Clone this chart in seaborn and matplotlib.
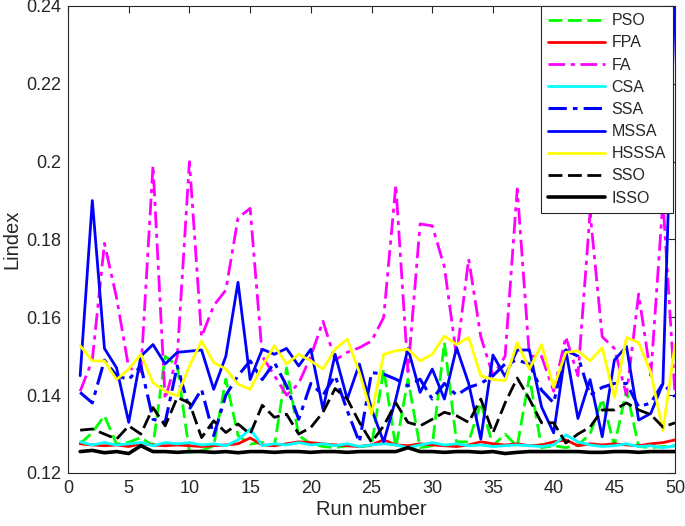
import numpy as np
import pandas as pd
import matplotlib
matplotlib.use("Agg")
import matplotlib.pyplot as plt
import seaborn as sns

runs = list(range(1, 51))

pso = [0.1275, 0.1304, 0.1347, 0.1274, 0.1279, 0.1291, 0.1270, 0.1500, 0.1475, 0.1253,
       0.1257, 0.1270, 0.1441, 0.1296, 0.1274, 0.1279, 0.1270, 0.1470, 0.1296, 0.1275,
       0.1268, 0.1265, 0.1270, 0.1268, 0.1270, 0.1467, 0.1265, 0.1441, 0.1265, 0.1270,
       0.1535, 0.1280, 0.1280, 0.1380, 0.1270, 0.1300, 0.1268, 0.1447, 0.1265, 0.1270,
       0.1265, 0.1272, 0.1300, 0.1390, 0.1270, 0.1413, 0.1268, 0.1265, 0.1268, 0.1270]
fpa = [0.1275, 0.1272, 0.1270, 0.1272, 0.1268, 0.1275, 0.1272, 0.1270, 0.1272, 0.1270,
       0.1268, 0.1270, 0.1272, 0.1275, 0.1290, 0.1272, 0.1270, 0.1275, 0.1280, 0.1278,
       0.1275, 0.1272, 0.1270, 0.1268, 0.1272, 0.1285, 0.1272, 0.1270, 0.1275, 0.1272,
       0.1270, 0.1268, 0.1272, 0.1280, 0.1275, 0.1272, 0.1275, 0.1270, 0.1272, 0.1280,
       0.1285, 0.1270, 0.1275, 0.1272, 0.1275, 0.1272, 0.1270, 0.1275, 0.1278, 0.1285]
fa = [0.1410, 0.1490, 0.1790, 0.1650, 0.1470, 0.1460, 0.1990, 0.1390, 0.1500, 0.2000,
      0.1550, 0.1630, 0.1670, 0.1855, 0.1880, 0.1500, 0.1450, 0.1400, 0.1430, 0.1500,
      0.1590, 0.1490, 0.1510, 0.1522, 0.1539, 0.1600, 0.1940, 0.1460, 0.1840, 0.1835,
      0.1730, 0.1500, 0.1750, 0.1550, 0.1450, 0.1500, 0.1930, 0.1500, 0.1500, 0.1410,
      0.1550, 0.1450, 0.1870, 0.1550, 0.1520, 0.1400, 0.1660, 0.1450, 0.1900, 0.1400]
csa = [0.1280, 0.1272, 0.1278, 0.1272, 0.1275, 0.1278, 0.1270, 0.1278, 0.1275, 0.1278,
       0.1272, 0.1275, 0.1270, 0.1285, 0.1313, 0.1270, 0.1275, 0.1272, 0.1278, 0.1272,
       0.1275, 0.1270, 0.1275, 0.1268, 0.1272, 0.1275, 0.1272, 0.1265, 0.1272, 0.1278,
       0.1272, 0.1275, 0.1270, 0.1272, 0.1268, 0.1270, 0.1272, 0.1270, 0.1268, 0.1272,
       0.1298, 0.1280, 0.1272, 0.1268, 0.1270, 0.1275, 0.1268, 0.1270, 0.1265, 0.1270]
ssa = [0.1407, 0.1380, 0.1490, 0.1450, 0.1440, 0.1475, 0.1338, 0.1330, 0.1475, 0.1364,
       0.1415, 0.1296, 0.1400, 0.1450, 0.1488, 0.1440, 0.1484, 0.1424, 0.1338, 0.1430,
       0.1400, 0.1450, 0.1360, 0.1279, 0.1458, 0.1454, 0.1441, 0.1424, 0.1441, 0.1390,
       0.1430, 0.1400, 0.1420, 0.1430, 0.1450, 0.1480, 0.1490, 0.1480, 0.1413, 0.1380,
       0.1516, 0.1500, 0.1400, 0.1420, 0.1430, 0.1430, 0.1370, 0.1380, 0.1430, 0.1396]
mssa = [0.1450, 0.1900, 0.1520, 0.1470, 0.1330, 0.1500, 0.1530, 0.1480, 0.1510, 0.1513,
        0.1516, 0.1415, 0.1500, 0.1690, 0.1440, 0.1518, 0.1505, 0.1520, 0.1475, 0.1518,
        0.1364, 0.1505, 0.1390, 0.1480, 0.1364, 0.1280, 0.1390, 0.1520, 0.1407, 0.1467,
        0.1390, 0.1522, 0.1430, 0.1287, 0.1503, 0.1448, 0.1516, 0.1516, 0.1370, 0.1303,
        0.1516, 0.1340, 0.1440, 0.1293, 0.1490, 0.1525, 0.1336, 0.1353, 0.1430, 0.2450]
hsssa = [0.1527, 0.1488, 0.1488, 0.1440, 0.1467, 0.1505, 0.1432, 0.1410, 0.1398, 0.1475,
         0.1539, 0.1484, 0.1467, 0.1428, 0.1415, 0.1475, 0.1527, 0.1480, 0.1505, 0.1488,
         0.1467, 0.1518, 0.1544, 0.1458, 0.1351, 0.1505, 0.1514, 0.1518, 0.1488, 0.1505,
         0.1552, 0.1530, 0.1548, 0.1450, 0.1440, 0.1437, 0.1535, 0.1467, 0.1530, 0.1420,
         0.1510, 0.1514, 0.1488, 0.1522, 0.1394, 0.1548, 0.1535, 0.1458, 0.1309, 0.1530]
sso = [0.1310, 0.1313, 0.1300, 0.1287, 0.1321, 0.1300, 0.1368, 0.1321, 0.1394, 0.1380,
       0.1291, 0.1334, 0.1304, 0.1326, 0.1300, 0.1374, 0.1343, 0.1351, 0.1300, 0.1317,
       0.1356, 0.1417, 0.1390, 0.1330, 0.1279, 0.1321, 0.1380, 0.1330, 0.1321, 0.1338,
       0.1356, 0.1347, 0.1330, 0.1390, 0.1303, 0.1380, 0.1444, 0.1390, 0.1329, 0.1329,
       0.1277, 0.1300, 0.1318, 0.1362, 0.1362, 0.1380, 0.1362, 0.1350, 0.1318, 0.1329]
isso = [0.1255, 0.1258, 0.1252, 0.1255, 0.1250, 0.1270, 0.1255, 0.1255, 0.1253, 0.1255,
        0.1255, 0.1253, 0.1255, 0.1252, 0.1255, 0.1255, 0.1253, 0.1255, 0.1255, 0.1253,
        0.1255, 0.1255, 0.1253, 0.1255, 0.1255, 0.1255, 0.1255, 0.1265, 0.1255, 0.1255,
        0.1253, 0.1255, 0.1255, 0.1253, 0.1255, 0.1250, 0.1253, 0.1255, 0.1255, 0.1255,
        0.1255, 0.1255, 0.1253, 0.1253, 0.1255, 0.1255, 0.1253, 0.1255, 0.1255, 0.1255]

names = ["PSO", "FPA", "FA", "CSA", "SSA", "MSSA", "HSSSA", "SSO", "ISSO"]
series = [pso, fpa, fa, csa, ssa, mssa, hsssa, sso, isso]
colors = ["#00ff00", "#ff0000", "#ff00ff", "#00ffff", "#0000ff", "#0000ff", "#ffff00", "#000000", "#000000"]
styles = [(0, (5, 2)), "-", (0, (6, 2, 1.5, 2)), "-", (0, (6, 2, 1.5, 2)), "-", "-", (0, (5, 2)), "-"]
widths = [2.0, 2.0, 2.0, 2.0, 2.2, 2.0, 2.0, 2.0, 2.6]

df = pd.DataFrame({"Run": runs})
for n, s in zip(names, series):
    df[n] = s

sns.set_style("white")
plt.rcParams["font.family"] = ["Liberation Sans", "DejaVu Sans"]

fig = plt.figure(figsize=(6.85, 5.26), dpi=100)
ax = fig.add_axes([0.0993, 0.1008, 0.8862, 0.8878])

for n, c, ls, lw in zip(names, colors, styles, widths):
    sns.lineplot(data=df, x="Run", y=n, ax=ax, color=c, linestyle=ls, linewidth=lw, label=n)

ax.set_xlim(0, 50)
ax.set_ylim(0.12, 0.24)
ax.set_xticks(range(0, 51, 5))
ax.set_yticks([0.12, 0.14, 0.16, 0.18, 0.2, 0.22, 0.24])
ax.set_yticklabels(["0.12", "0.14", "0.16", "0.18", "0.2", "0.22", "0.24"])
ax.tick_params(direction="in", top=True, right=True, length=5, width=0.8, labelsize=13,
               colors="#262626", pad=5)
for sp in ax.spines.values():
    sp.set_color("#262626")
    sp.set_linewidth(0.8)
ax.set_xlabel("Run number", fontsize=14.5, labelpad=2)
ax.set_ylabel("Lindex", fontsize=14.5, labelpad=3)

leg = ax.legend(loc="upper right", fontsize=11.5, frameon=True, fancybox=False,
                borderaxespad=0, handlelength=3.6, labelspacing=0.45, borderpad=0.45,
                handletextpad=0.4, bbox_to_anchor=(0.997, 1.0))
leg.get_frame().set_edgecolor("#262626")
leg.get_frame().set_linewidth(0.8)
leg.get_frame().set_alpha(1)

fig.savefig("out.png", dpi=100)
